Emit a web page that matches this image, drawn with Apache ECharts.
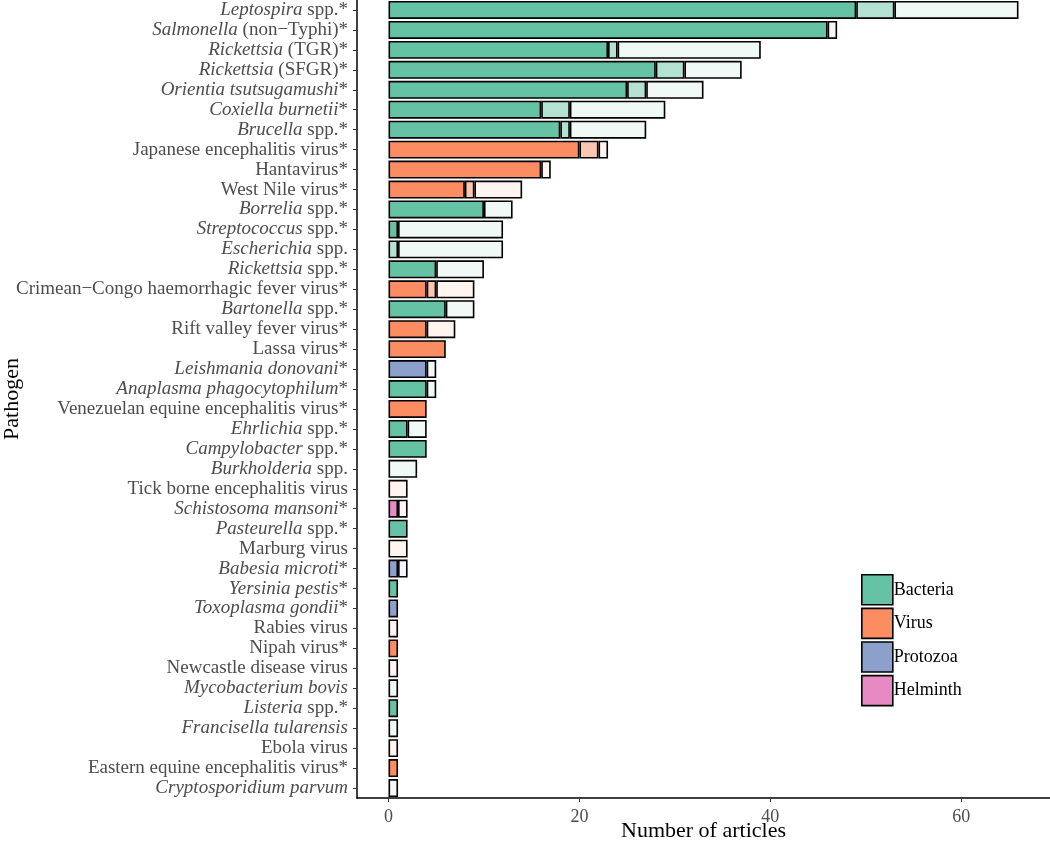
<!DOCTYPE html>
<html><head><meta charset="utf-8">
<script src="https://cdn.jsdelivr.net/npm/echarts@6/dist/echarts.min.js"></script>
<style>html,body{margin:0;padding:0;background:#fff}#c{width:1050px;height:844px}</style>
</head><body><div id="c"></div>
<script>
const categories = ["Leptospira spp.*","Salmonella (non−Typhi)*","Rickettsia (TGR)*","Rickettsia (SFGR)*","Orientia tsutsugamushi*","Coxiella burnetii*","Brucella spp.*","Japanese encephalitis virus*","Hantavirus*","West Nile virus*","Borrelia spp.*","Streptococcus spp.*","Escherichia spp.","Rickettsia spp.*","Crimean−Congo haemorrhagic fever virus*","Bartonella spp.*","Rift valley fever virus*","Lassa virus*","Leishmania donovani*","Anaplasma phagocytophilum*","Venezuelan equine encephalitis virus*","Ehrlichia spp.*","Campylobacter spp.*","Burkholderia spp.","Tick borne encephalitis virus","Schistosoma mansoni*","Pasteurella spp.*","Marburg virus","Babesia microti*","Yersinia pestis*","Toxoplasma gondii*","Rabies virus","Nipah virus*","Newcastle disease virus","Mycobacterium bovis","Listeria spp.*","Francisella tularensis","Ebola virus","Eastern equine encephalitis virus*","Cryptosporidium parvum"];
const italicPart = ["Leptospira","Salmonella","Rickettsia","Rickettsia","Orientia tsutsugamushi","Coxiella burnetii","Brucella","","","","Borrelia","Streptococcus","Escherichia","Rickettsia","","Bartonella","","","Leishmania donovani","Anaplasma phagocytophilum","","Ehrlichia","Campylobacter","Burkholderia","","Schistosoma mansoni","Pasteurella","","Babesia microti","Yersinia pestis","Toxoplasma gondii","","","","Mycobacterium bovis","Listeria","Francisella tularensis","","","Cryptosporidium parvum"];
const groups = ["Bacteria","Bacteria","Bacteria","Bacteria","Bacteria","Bacteria","Bacteria","Virus","Virus","Virus","Bacteria","Bacteria","Bacteria","Bacteria","Virus","Bacteria","Virus","Virus","Protozoa","Bacteria","Virus","Bacteria","Bacteria","Bacteria","Virus","Helminth","Bacteria","Virus","Protozoa","Bacteria","Protozoa","Virus","Virus","Virus","Bacteria","Bacteria","Bacteria","Virus","Virus","Protozoa"];
const solidCounts = [49,46,23,28,25,16,18,20,16,8,10,1,0,5,4,6,4,6,4,4,4,2,4,0,0,1,2,0,1,1,1,0,1,0,0,1,0,0,1,0];
const lightCounts = [4,0,1,3,2,3,1,2,0,1,0,0,1,0,1,0,0,0,0,0,0,0,0,0,0,0,0,0,0,0,0,0,0,0,0,0,0,0,0,0];
const whiteCounts = [13,1,15,6,6,10,8,1,1,5,3,11,11,5,4,3,3,0,1,1,0,2,0,3,2,1,0,2,1,0,0,1,0,1,1,0,1,1,0,1];
const groupNames = ["Bacteria","Virus","Protozoa","Helminth"];
const xTicks = [0,20,40,60];

const palette = {
  Bacteria: ["#66C2A5","#B3E1D2","#F0F9F6"],
  Virus:    ["#FC8D62","#FEC6B1","#FFF4EF"],
  Protozoa: ["#8DA0CB","#C6CFE5","#F4F6FA"],
  Helminth: ["#E78AC3","#F3C4E1","#FDF3F9"]
};
const border = {borderColor:"#000", borderWidth:1.6};
function mk(vals, level){
  return vals.map((v,i)=> v>0 ? {value:v, itemStyle:Object.assign({color:palette[groups[i]][level]}, border)} : '-');
}
const font = "'Liberation Serif','Times New Roman',serif";
const series = [
  {name:'solid', type:'bar', stack:'a', barCategoryGap:'10%', data:mk(solidCounts,0)},
  {name:'light', type:'bar', stack:'a', data:mk(lightCounts,1)},
  {name:'white', type:'bar', stack:'a', data:mk(whiteCounts,2)}
].concat(groupNames.map(g=>({name:g, type:'bar', stack:'a', data:[], itemStyle:Object.assign({color:palette[g][0]}, border)})));

const chart = echarts.init(document.getElementById('c'), null, {renderer:'canvas'});
chart.setOption({
  animation:false,
  grid:{left:357, right:0, top:0, bottom:46, containLabel:false, outerBoundsMode:'none'},
  legend:{data:groupNames, orient:'vertical', left:861, top:574, itemWidth:31, itemHeight:30, itemGap:2, padding:0, icon:'rect',
    itemStyle:{borderColor:'#000', borderWidth:1.6},
    textStyle:{fontFamily:font, fontSize:18, color:'#000', padding:[0,0,0,-4]}},
  xAxis:{type:'value', min:-3.3, max:69.3,
    name:'Number of articles', nameLocation:'middle', nameGap:22, nameMoveOverlap:false,
    nameTextStyle:{fontFamily:font, fontSize:22, color:'#000'},
    axisLine:{show:true, onZero:false, lineStyle:{color:'#000', width:1.5}},
    axisTick:{show:true, length:4, customValues:xTicks, lineStyle:{color:'#333'}},
    axisLabel:{customValues:xTicks, fontFamily:font, fontSize:18, color:'#4d4d4d', margin:10},
    splitLine:{show:false}},
  yAxis:{type:'category', data:categories, inverse:true,
    name:'Pathogen', nameLocation:'middle', nameGap:334, nameMoveOverlap:false,
    nameTextStyle:{fontFamily:font, fontSize:22, color:'#000'},
    axisLine:{show:true, onZero:false, lineStyle:{color:'#000', width:1.5}},
    axisTick:{show:true, length:4, alignWithLabel:true, lineStyle:{color:'#333'}},
    axisLabel:{interval:0, margin:9, fontFamily:font, fontSize:19, color:'#4d4d4d',
      formatter:(v, i)=>{
        const it = italicPart[i];
        if (it && v.startsWith(it)) {
          const rest = v.slice(it.length);
          return '{i|' + it + '}' + (rest ? '{n|' + rest + '}' : '');
        }
        return '{n|' + v + '}';
      },
      rich:{i:{fontFamily:font, fontSize:19, fontStyle:'italic', color:'#4d4d4d'}, n:{fontFamily:font, fontSize:19, color:'#4d4d4d'}}},
    splitLine:{show:false}},
  series: series
});
</script></body></html>
